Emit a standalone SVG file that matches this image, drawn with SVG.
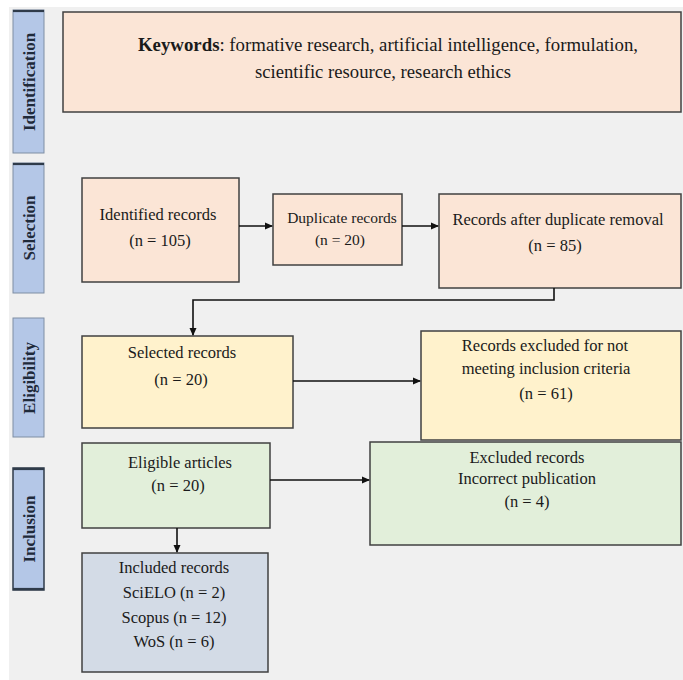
<svg xmlns="http://www.w3.org/2000/svg" width="683" height="680" viewBox="0 0 683 680">
<defs>
<style>
.bg{fill:#f0f0f0}
.lab{fill:#b4c7e7;stroke:#7f8ea3;stroke-width:1}
.labline{stroke:#2f3b4a;stroke-width:2.2}
.labt{font-family:"Liberation Serif",serif;font-weight:bold;font-size:17px;fill:#1f2a3a;text-anchor:middle}
.box{stroke:#404040;stroke-width:1.5}
.peach{fill:#fbe5d6}
.yellow{fill:#fff2cc}
.green{fill:#e2efda}
.grey{fill:#d3dbe6}
.t{font-family:"Liberation Serif",serif;font-size:16.5px;fill:#1a1a1a;text-anchor:middle}
.kw{font-size:19px}
.sm{font-size:15.5px}
.conn{fill:none;stroke:#111;stroke-width:1.6}
</style>
<marker id="ah" markerWidth="8" markerHeight="8" refX="7" refY="4" orient="auto" markerUnits="userSpaceOnUse">
<path d="M0,0.5 L8,4 L0,7.5 z" fill="#111"/>
</marker>
</defs>
<rect x="0" y="0" width="683" height="680" fill="#ffffff"/>
<rect class="bg" x="9" y="7" width="674" height="673"/>

<g id="label-identification">
<rect class="lab" x="13" y="10" width="31" height="143"/>
<line class="labline" x1="13" y1="11" x2="44" y2="11"/>
<text class="labt" transform="translate(35,82) rotate(-90)">Identification</text>
</g>
<g id="label-selection">
<rect class="lab" x="13" y="163" width="31" height="130"/>
<line class="labline" x1="13" y1="164" x2="44" y2="164"/>
<text class="labt" transform="translate(35,228) rotate(-90)">Selection</text>
</g>
<g id="label-eligibility">
<rect class="lab" x="13" y="318" width="31" height="119"/>
<text class="labt" transform="translate(35,378) rotate(-90)">Eligibility</text>
</g>
<g id="label-inclusion">
<rect class="lab" x="13" y="468" width="31" height="122" style="stroke:#2f3b4a;stroke-width:1.5"/>
<line class="labline" x1="13" y1="469" x2="44" y2="469"/>
<line class="labline" x1="13" y1="589" x2="44" y2="589"/>
<text class="labt" transform="translate(35,529) rotate(-90)">Inclusion</text>
</g>

<g id="keywords">
<rect class="box peach" x="63" y="12" width="618" height="100"/>
<text class="t kw" x="388" y="51" textLength="500" lengthAdjust="spacingAndGlyphs"><tspan font-weight="bold">Keywords</tspan>: formative research, artificial intelligence, formulation,</text>
<text class="t kw" x="383" y="78" textLength="256" lengthAdjust="spacingAndGlyphs">scientific resource, research ethics</text>
</g>

<g id="identified">
<rect class="box peach" x="82" y="178" width="157" height="104"/>
<text class="t" x="158" y="220">Identified records</text>
<text class="t" x="160" y="246">(n = 105)</text>
</g>
<g id="duplicate">
<rect class="box peach" x="273" y="194" width="129" height="71"/>
<text class="t sm" x="342" y="223">Duplicate records</text>
<text class="t sm" x="340" y="245">(n = 20)</text>
</g>
<g id="after-dup">
<rect class="box peach" x="439" y="194" width="242" height="94"/>
<text class="t" x="558" y="225">Records after duplicate removal</text>
<text class="t" x="555" y="251">(n = 85)</text>
</g>

<g id="selected">
<rect class="box yellow" x="82" y="336" width="211" height="92"/>
<text class="t" x="182" y="358">Selected records</text>
<text class="t" x="181" y="385">(n = 20)</text>
</g>
<g id="excluded-criteria">
<rect class="box yellow" x="421" y="331" width="260" height="109"/>
<text class="t" x="545" y="351">Records excluded for not</text>
<text class="t" x="546" y="374">meeting inclusion criteria</text>
<text class="t" x="546" y="399">(n = 61)</text>
</g>

<g id="eligible">
<rect class="box green" x="82" y="443" width="188" height="85"/>
<text class="t" x="180" y="468">Eligible articles</text>
<text class="t" x="178" y="491">(n = 20)</text>
</g>
<g id="excluded-incorrect">
<rect class="box green" x="370" y="442" width="311" height="103"/>
<text class="t" x="527" y="463">Excluded records</text>
<text class="t" x="527" y="484">Incorrect publication</text>
<text class="t" x="527" y="507">(n = 4)</text>
</g>

<g id="included">
<rect class="box grey" x="82" y="553" width="186" height="119"/>
<text class="t" x="174" y="573">Included records</text>
<text class="t" x="174" y="598">SciELO (n = 2)</text>
<text class="t" x="174" y="623">Scopus (n = 12)</text>
<text class="t" x="174" y="647">WoS (n = 6)</text>
</g>

<g id="connectors">
<line class="conn" x1="239" y1="226" x2="272" y2="226" marker-end="url(#ah)"/>
<line class="conn" x1="402" y1="226" x2="438" y2="226" marker-end="url(#ah)"/>
<polyline class="conn" points="554,288 554,300 193,300 193,335" marker-end="url(#ah)"/>
<line class="conn" x1="293" y1="381" x2="420" y2="381" marker-end="url(#ah)"/>
<line class="conn" x1="270" y1="480" x2="369" y2="480" marker-end="url(#ah)"/>
<line class="conn" x1="177" y1="528" x2="177" y2="552" marker-end="url(#ah)"/>
</g>
</svg>
